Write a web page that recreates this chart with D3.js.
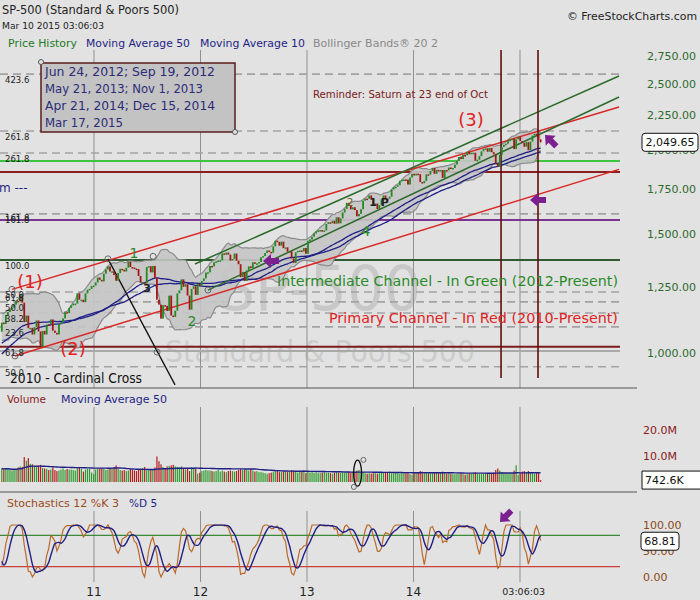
<!DOCTYPE html>
<html><head><meta charset="utf-8">
<script src="https://cdn.jsdelivr.net/npm/d3@7/dist/d3.min.js"></script>
<style>
body{margin:0;background:#e2e2e2;}
svg{display:block;font-family:"DejaVu Sans",Verdana,sans-serif;}
</style>
</head><body>
<svg id="c" width="700" height="600"></svg>
<script>
// ---------------- DATA ----------------
// weekly closes, Mar 2009 - Feb 12 2010 (used only to seed indicators)
const closesPrior = [683,756,769,816,843,857,870,866,878,930,883,887,919,940,946,921,918,896,880,940,979,987,1010,1005,1026,1029,1016,1042,1068,1044,1025,1072,1087,1080,1036,1069,1093,1091,1091,1106,1106,1102,1127,1115,1145,1136,1092,1074,1066,1075];
const firstWeekYear = 2010 + 49/365; // Feb 19 2010
const closes2010 = [1109,1104,1138,1150,1160,1167,1179,1194,1192,1217,1187,1111,1136,1088,1089,1065,1092,1117,1076,1022,1078,1065,1102,1101,1121,1079,1071,1065,1104,1110,1125,1149,1146,1166,1176,1183,1183,1225,1199,1199,1189,1225,1240,1244,1256,1258];
const closes2011 = [1272,1293,1283,1276,1310,1329,1343,1320,1321,1304,1279,1313,1332,1328,1320,1337,1364,1340,1338,1333,1331,1300,1271,1271,1268,1340,1344,1316,1345,1292,1199,1179,1124,1177,1174,1154,1216,1136,1131,1155,1225,1238,1285,1253,1264,1216,1159,1244,1255,1219,1265,1258];
const closes2012 = [1278,1289,1315,1316,1345,1343,1362,1366,1370,1371,1404,1397,1408,1398,1370,1378,1403,1369,1353,1295,1318,1278,1325,1343,1335,1362,1355,1357,1363,1386,1391,1406,1418,1411,1407,1438,1466,1460,1441,1461,1429,1433,1412,1414,1380,1359,1409,1416,1418,1413,1430,1402];
const closes2013 = [1466,1472,1486,1503,1513,1518,1520,1516,1518,1552,1561,1556,1569,1553,1588,1555,1582,1614,1634,1668,1650,1631,1643,1627,1593,1606,1632,1680,1692,1691,1710,1691,1656,1664,1633,1655,1688,1710,1692,1691,1703,1745,1759,1762,1771,1798,1804,1806,1805,1775,1818,1841];
const closes2014 = [1831,1842,1839,1790,1783,1797,1838,1836,1859,1878,1841,1866,1857,1865,1816,1865,1863,1881,1878,1878,1900,1924,1950,1936,1963,1961,1985,1968,1978,1978,1925,1931,1955,1988,2003,2008,1985,2011,1982,1968,1906,1887,1964,2018,2032,2040,2064,2068,2075,2003,2071,2089];
const closes2015 = [2058,2045,2019,2051,1995,2055,2097,2110,2105,2071,2049.65];

// weekly volume (millions, chart units)
const vol2010 = [5.2,4.8,5.4,5.0,4.6,4.4,4.8,5.0,5.6,6.0,5.8,9.6,8.2,9.2,7.0,6.8,6.2,5.8,6.4,6.6,5.4,5.2,5.0,4.6,4.8,5.6,4.6,4.2,4.4,4.8,5.2,4.6,5.0,4.8,4.8,4.6,4.4,5.6,5.4,5.2,4.0,4.8,5.0,5.2,3.6,3.0];
const vol2011 = [4.8,5.0,5.2,5.4,5.0,4.6,4.8,5.2,5.4,5.6,6.4,5.0,4.6,4.4,4.6,4.2,4.4,5.0,4.6,4.4,4.2,5.0,5.2,5.4,5.8,4.4,4.6,5.0,4.8,5.6,9.8,8.0,6.8,5.8,5.2,6.0,6.2,6.4,6.6,6.0,5.8,5.6,6.0,5.0,4.8,5.2,4.2,5.6,5.0,5.2,3.2,3.6];
const vol2012 = [4.2,4.4,4.6,4.4,4.4,4.2,4.0,4.2,4.6,4.0,4.4,4.0,3.8,4.2,4.4,4.2,4.0,4.2,4.6,5.0,4.6,4.8,4.6,4.4,5.0,4.4,4.0,4.2,3.8,3.8,3.6,3.4,3.2,3.4,3.6,3.8,4.2,4.6,3.8,3.8,4.0,4.0,3.8,4.2,4.6,4.4,3.8,3.6,4.0,4.2,4.6,3.4];
const vol2013 = [3.8,3.6,3.8,3.6,3.8,3.4,3.4,3.6,3.8,3.6,3.6,3.4,3.2,3.6,3.8,3.6,3.6,3.8,3.6,3.6,3.8,3.6,3.8,3.6,4.4,4.6,3.6,3.8,3.4,3.2,3.4,3.2,3.4,3.4,3.2,3.4,3.8,3.6,3.6,3.8,4.0,3.4,3.4,3.6,3.4,3.2,3.4,3.6,3.8,3.6,3.0,2.8];
const vol2014 = [3.6,3.4,3.6,4.2,4.0,3.8,3.4,3.2,3.4,3.4,3.6,3.6,3.4,3.6,4.0,3.4,3.2,3.4,3.2,3.0,3.0,3.2,3.0,3.2,3.0,2.8,3.0,3.2,3.2,3.6,3.8,3.2,3.0,3.0,3.2,3.4,3.2,3.6,3.4,3.6,4.6,5.2,4.4,3.8,3.6,3.4,3.2,3.4,3.4,4.4,6.4,2.8];
const vol2015 = [3.4,4.0,4.2,3.8,4.2,3.8,3.4,3.2,3.4,3.8,0.7426];

const priceTicks = [1000,1250,1500,1750,2000,2250,2500,2750];
const volTicks = [10,20];
const stochTicks = [0,50,100];
const yearTicks = [2011,2012,2013,2014];
const yearTickLabels = ["11","12","13","14"];
const lastTimeLabel = "03:06:03";
const lastPriceLabel = "2,049.65";
const lastVolLabel = "742.6K";
const lastStochValue = 68.81;

// Fibonacci / level lines (prices)
const fibDashed = [2586,2130,1976,1606,1231,1190,1146,1093,954];
const fibLabels = ["423.6","261.8","261.8","161.8","61.8","50.0","38.2","23.6","50.0"];
const levelPrices = [1923,1852,1573,1373,1021,1007];
const levelLabels = [null,null,"161.8","100.0","61.8",null];
const extraFibLabel = {t:"50.0", p:1231};
// channels [ [year, price], [year, price] ]
const primaryChannel = [[[2010.23,1242],[2015.93,2312]],[[2010.258,990],[2015.93,1869]]];
const intermediateChannel = [[[2011.948,1354],[2015.93,2569]],[[2012.07,1239],[2015.93,2392]]];
const cardinalLine = [[2011.131,1378],[2011.761,897]];
const cycleLines = [2014.822, 2015.169];
const handles = [[2011.131,1378],[2011.592,1003],[2012.07,1239],[2010.258,990],[2010.23,1242],[2011.555,1390]];
const waveLabels = [
  {t:"(1)", yr:2010.399, p:1274, k:"red"},
  {t:"(2)", yr:2010.803, p:1017, k:"red"},
  {t:"(3)", yr:2014.540, p:2212, k:"red"},
  {t:"1", yr:2011.376, p:1406, k:"green"},
  {t:"2", yr:2011.920, p:1115, k:"green"},
  {t:"4", yr:2013.554, p:1515, k:"green"},
  {t:"3", yr:2011.498, p:1244, k:"small"},
  {t:"2", yr:2013.404, p:1667, k:"smallg"},
  {t:"1 P", yr:2013.676, p:1667, k:"small"}
];
const arrows = [
  {yr:2012.587, p:1368, dir:0},
  {yr:2015.094, p:1684, dir:0},
  {yr:2015.235, p:2101, dir:45}
];
const stochArrow = {yr:2014.812, v:105.8, dir:-45};
const legendDates = ["Jun 24, 2012; Sep 19, 2012","May 21, 2013; Nov 1, 2013","Apr 21, 2014; Dec 15, 2014","Mar 17, 2015"];

// ---------------- DERIVED SERIES ----------------
const closesVisible = [].concat(closes2010,closes2011,closes2012,closes2013,closes2014,closes2015);
const volumes = [].concat(vol2010,vol2011,vol2012,vol2013,vol2014,vol2015);
const all = closesPrior.concat(closesVisible);
const P = closesPrior.length;
const n = closesVisible.length;
const weekYear = d3.range(n).map(j => firstWeekYear + j*7/365.25);
function windowOf(arr, i, k){ return arr.slice(Math.max(0,i-k+1), i+1); }
const ma50 = d3.range(n).map(j => d3.mean(windowOf(all, P+j, 50)));
const ma40 = d3.range(n).map(j => d3.mean(windowOf(all, P+j, 40)));
const bb = d3.range(n).map(j => { const w = windowOf(all,P+j,20); const m=d3.mean(w), s=d3.deviation(w)*Math.sqrt((w.length-1)/w.length); return {m, up:m+2*s, lo:m-2*s}; });
const rawK = all.map((c,i) => { const w = windowOf(all,i,12); const lo=d3.min(w), hi=d3.max(w); return hi===lo?50:100*(c-lo)/(hi-lo); });
const kS = all.map((c,i) => d3.mean(windowOf(rawK,i,3)));
const dS = all.map((c,i) => d3.mean(windowOf(kS,i,5)));
const volMA = d3.range(n).map(j => d3.mean(windowOf(volumes, j, 50)));

// ---------------- SCALES ----------------
const plotW = 620;
const x = d3.scaleLinear().domain([2011 - 94/106.5, 2011 + (plotW-94)/106.5]).range([0, plotW]);
const yP = d3.scaleLog().domain([887.5, 3005]).range([388, 30]);
const yV = d3.scaleLinear().domain([0, 10]).range([482, 456]);
const yS = d3.scaleLinear().domain([0, 100]).range([577, 525]);

const C = {green:"#238a23", red:"#a51616", navy:"#1f1f85", chanRed:"#d92828", chanGreen:"#2c6a2c", grid:"#8f8f8f", dash:"#a3a3a3", purple:"#7c2090"};

const svg = d3.select("#c");
const defs = svg.append("defs");
defs.append("clipPath").attr("id","clipMain").append("rect").attr("x",0).attr("y",30).attr("width",plotW).attr("height",358);
defs.append("clipPath").attr("id","clipVol").append("rect").attr("x",0).attr("y",400).attr("width",plotW).attr("height",90);
defs.append("clipPath").attr("id","clipSto").append("rect").attr("x",0).attr("y",505).attr("width",plotW).attr("height",80);

// ---------------- HEADER ----------------
svg.append("text").attr("x",2).attr("y",14).attr("font-size",12.5).attr("fill","#222").attr("textLength",177).attr("lengthAdjust","spacingAndGlyphs").text("SP-500 (Standard & Poors 500)");
svg.append("text").attr("x",2).attr("y",29).attr("font-size",9.5).attr("fill","#222").attr("textLength",102).attr("lengthAdjust","spacingAndGlyphs").text("Mar 10 2015 03:06:03");
svg.append("text").attr("x",567).attr("y",20).attr("font-size",11).attr("fill","#222").attr("textLength",130).attr("lengthAdjust","spacingAndGlyphs").text("© FreeStockCharts.com");
const leg = [["Price History",8,69,"#1e7a1e"],["Moving Average 50",86,104,C.navy],["Moving Average 10",200,105,C.navy],["Bollinger Bands® 20 2",313,125,"#888"]];
leg.forEach(l => svg.append("text").attr("x",l[1]).attr("y",47).attr("font-size",11).attr("fill",l[3]).attr("textLength",l[2]).attr("lengthAdjust","spacingAndGlyphs").text(l[0]));

// ---------------- MAIN PANEL ----------------
const gM = svg.append("g").attr("clip-path","url(#clipMain)");
// watermark
gM.append("text").attr("x",218).attr("y",310).attr("font-size",62).attr("fill","#a9a9a9").attr("opacity",0.45).attr("textLength",203).attr("lengthAdjust","spacingAndGlyphs").text("SP-500");
gM.append("text").attr("x",165).attr("y",362).attr("font-size",30).attr("fill","#b3b3b3").attr("opacity",0.45).attr("textLength",310).attr("lengthAdjust","spacingAndGlyphs").text("Standard & Poors 500");
// year grid
gM.selectAll("line.yg").data(yearTicks.concat([2015])).join("line").attr("x1",d=>x(d)).attr("x2",d=>x(d)).attr("y1",50).attr("y2",388).attr("stroke",C.grid).attr("stroke-width",1);
// dashed fib lines
gM.selectAll("line.fd").data(fibDashed).join("line").attr("x1",0).attr("x2",plotW).attr("y1",d=>yP(d)).attr("y2",d=>yP(d)).attr("stroke",C.dash).attr("stroke-width",1.6).attr("stroke-dasharray","8,5");
// level lines
const levelColors = ["#3ec43e","#8b1e1e","#7a3590","#2f5a2f","#7a1c1c","#a9a9a9"];
gM.selectAll("line.lv").data(levelPrices).join("line").attr("x1",0).attr("x2",plotW).attr("y1",d=>yP(d)).attr("y2",d=>yP(d)).attr("stroke",(d,i)=>levelColors[i]).attr("stroke-width",2);
// fib labels
const fl = svg.append("g").attr("font-size",8.5).attr("fill","#222");
fibDashed.forEach((p,i)=> fl.append("text").attr("x",5).attr("y",yP(p)+9).text(fibLabels[i]));
levelPrices.forEach((p,i)=> { if(levelLabels[i]) fl.append("text").attr("x",5).attr("y",yP(p)+(i===2?1:9)).text(levelLabels[i]); });
fl.append("text").attr("x",5).attr("y",yP(extraFibLabel.p)+6).text(extraFibLabel.t);
// Bollinger
const bbArea = d3.area().x((d,j)=>x(weekYear[j])).y0(d=>yP(d.lo)).y1(d=>yP(d.up)).curve(d3.curveMonotoneX);
gM.append("path").datum(bb).attr("d",bbArea).attr("fill","#c5c5c5").attr("opacity",0.9);
gM.append("path").datum(bb).attr("d",d3.line().x((d,j)=>x(weekYear[j])).y(d=>yP(d.up)).curve(d3.curveMonotoneX)).attr("fill","none").attr("stroke","#8a8a8a").attr("stroke-width",1.2);
gM.append("path").datum(bb).attr("d",d3.line().x((d,j)=>x(weekYear[j])).y(d=>yP(d.lo)).curve(d3.curveMonotoneX)).attr("fill","none").attr("stroke","#8a8a8a").attr("stroke-width",1.2);
// MAs
[ma50, ma40].forEach(s => gM.append("path").datum(s).attr("d",d3.line().x((d,j)=>x(weekYear[j])).y(d=>yP(d)).curve(d3.curveMonotoneX)).attr("fill","none").attr("stroke",C.navy).attr("stroke-width",1.3));
// channels
const seg = d3.line().x(d=>x(d[0])).y(d=>yP(d[1]));
primaryChannel.forEach(s => gM.append("path").attr("d",seg(s)).attr("stroke",C.chanRed).attr("stroke-width",1.5).attr("fill","none"));
intermediateChannel.forEach(s => gM.append("path").attr("d",seg(s)).attr("stroke",C.chanGreen).attr("stroke-width",1.5).attr("fill","none"));
gM.append("path").attr("d",seg(cardinalLine)).attr("stroke","#111").attr("stroke-width",1.3).attr("fill","none");
// cycle lines
gM.selectAll("line.cy").data(cycleLines).join("line").attr("x1",d=>x(d)).attr("x2",d=>x(d)).attr("y1",50).attr("y2",378).attr("stroke","#5e0f0f").attr("stroke-width",1.6);
// candles
const openV = d3.range(n).map(j => all[P+j-1]);
gM.selectAll("rect.cd").data(d3.range(n)).join("rect")
  .attr("x", j => x(weekYear[j]) - 0.9).attr("width", 1.8)
  .attr("y", j => yP(Math.max(openV[j], closesVisible[j])))
  .attr("height", j => Math.max(1.5, Math.abs(yP(openV[j]) - yP(closesVisible[j]))))
  .attr("fill", j => closesVisible[j] >= openV[j] ? C.green : C.red);
// handles
gM.selectAll("circle.h").data(handles).join("circle").attr("cx",d=>x(d[0])).attr("cy",d=>yP(d[1])).attr("r",3).attr("fill","none").attr("stroke","#666").attr("stroke-width",1);
// wave labels
waveLabels.forEach(w => {
  const t = gM.append("text").attr("x",x(w.yr)).attr("y",yP(w.p)).attr("text-anchor","middle").attr("dominant-baseline","central").text(w.t);
  if (w.k==="red") t.attr("font-size",18).attr("fill","#e02222");
  else if (w.k==="green") t.attr("font-size",14).attr("fill","#2a8a2a");
  else if (w.k==="smallg") t.attr("font-size",11).attr("fill","#6a6a2a");
  else t.attr("font-size",11).attr("fill","#222").attr("font-weight","bold");
});
// arrows
const arrowPath = "M0,0 L8,-7 L8,-3 L16,-3 L16,3 L8,3 L8,7 Z";
arrows.forEach(a => gM.append("path").attr("d",arrowPath).attr("fill",C.purple).attr("transform",`translate(${x(a.yr)},${yP(a.p)}) rotate(${a.dir})`));
// annotations text
gM.append("text").attr("x",x(2013.056)).attr("y",yP(2416)+4).attr("font-size",11).attr("fill","#7a1a1a").attr("textLength",175).attr("lengthAdjust","spacingAndGlyphs").text("Reminder: Saturn at 23 end of Oct");
gM.append("text").attr("x",x(2015.92)).attr("y",yP(1278)+5).attr("text-anchor","end").attr("font-size",14.5).attr("fill","#2a8a2a").attr("textLength",341).attr("lengthAdjust","spacingAndGlyphs").text("Intermediate Channel - In Green (2012-Present)");
gM.append("text").attr("x",x(2015.92)).attr("y",yP(1126)+5).attr("text-anchor","end").attr("font-size",14.5).attr("fill","#e02222").attr("textLength",289).attr("lengthAdjust","spacingAndGlyphs").text("Primary Channel - In Red (2010-Present)");
gM.append("text").attr("x",10).attr("y",yP(918)+5).attr("font-size",14).attr("fill","#111").attr("textLength",132).attr("lengthAdjust","spacingAndGlyphs").text("2010 - Cardinal Cross");
gM.append("text").attr("x",-1).attr("y",yP(1800)+12).attr("font-size",12).attr("fill",C.navy).text("m ---");
// legend box
const lb = svg.append("g");
lb.append("rect").attr("x",41).attr("y",63).attr("width",194).attr("height",69).attr("fill","#c3c3c3").attr("stroke","#5a1c1c").attr("stroke-width",1.5);
legendDates.forEach((t,i)=> lb.append("text").attr("x",45).attr("y",76+i*17).attr("font-size",12).attr("fill","#2c2c78").attr("textLength",[170,158,170,78][i]).attr("lengthAdjust","spacingAndGlyphs").text(t));
lb.append("circle").attr("cx",41).attr("cy",62).attr("r",2.5).attr("fill","#e2e2e2").attr("stroke","#555");
lb.append("circle").attr("cx",235).attr("cy",132).attr("r",2.5).attr("fill","#e2e2e2").attr("stroke","#555");

// price axis
const ax = svg.append("g").attr("font-size",11).attr("fill","#2d6a2d");
priceTicks.forEach(p => ax.append("text").attr("x",696).attr("y",yP(p)+4).attr("text-anchor","end").text(d3.format(",.2f")(p)));
const lastP = closesVisible[n-1];
svg.append("rect").attr("x",642).attr("y",yP(lastP)-9).attr("width",56).attr("height",18).attr("rx",3).attr("fill","#fff").attr("stroke","#111");
svg.append("text").attr("x",670).attr("y",yP(lastP)+4).attr("text-anchor","middle").attr("font-size",11).attr("fill","#111").text(lastPriceLabel);

// separators
[388,492].forEach(yv => svg.append("line").attr("x1",0).attr("x2",637).attr("y1",yv).attr("y2",yv).attr("stroke","#555").attr("stroke-width",1));

// ---------------- VOLUME PANEL ----------------
svg.append("text").attr("x",7).attr("y",403).attr("font-size",10.5).attr("fill","#8b1a1a").text("Volume");
svg.append("text").attr("x",61).attr("y",403).attr("font-size",10.5).attr("fill",C.navy).attr("textLength",106).attr("lengthAdjust","spacingAndGlyphs").text("Moving Average 50");
const gV = svg.append("g").attr("clip-path","url(#clipVol)");
gV.selectAll("line.yg").data(yearTicks.concat([2015])).join("line").attr("x1",d=>x(d)).attr("x2",d=>x(d)).attr("y1",407).attr("y2",482).attr("stroke",C.grid);
gV.selectAll("rect.v").data(d3.range(n)).join("rect")
  .attr("x", j => x(weekYear[j]) - 0.6).attr("width",1.2)
  .attr("y", j => yV(volumes[j])).attr("height", j => yV(0) - yV(volumes[j]))
  .attr("fill", j => closesVisible[j] >= openV[j] ? "#2c9a2c" : "#b31d1d");
gV.append("path").datum(volMA).attr("d",d3.line().x((d,j)=>x(weekYear[j])).y(d=>yV(d))).attr("fill","none").attr("stroke",C.navy).attr("stroke-width",1.4);
gV.append("ellipse").attr("cx",x(2013.475)).attr("cy",yV(3.4)).attr("rx",4).attr("ry",13).attr("fill","none").attr("stroke","#111").attr("stroke-width",1.3);
gV.append("circle").attr("cx",x(2013.53)).attr("cy",yV(8.5)).attr("r",2.5).attr("fill","none").attr("stroke","#666");
gV.append("circle").attr("cx",x(2013.44)).attr("cy",yV(-1.9)).attr("r",2.5).attr("fill","none").attr("stroke","#666");
volTicks.forEach(v => svg.append("text").attr("x",643).attr("y",yV(v)+4).attr("font-size",11).attr("fill","#8b1a1a").text(v.toFixed(1)+"M"));
svg.append("path").attr("d",`M700,${yV(volumes[n-1])-9} H642 V${yV(volumes[n-1])+9} H700`).attr("fill","#fff").attr("stroke","#111");
svg.append("text").attr("x",645).attr("y",yV(volumes[n-1])+4).attr("font-size",11).attr("fill","#111").text(lastVolLabel);

// ---------------- STOCHASTIC PANEL ----------------
svg.append("text").attr("x",7).attr("y",507).attr("font-size",10.5).attr("fill","#9a4a1a").attr("textLength",112).attr("lengthAdjust","spacingAndGlyphs").text("Stochastics 12 %K 3");
svg.append("text").attr("x",129).attr("y",507).attr("font-size",10.5).attr("fill",C.navy).text("%D 5");
const gS = svg.append("g").attr("clip-path","url(#clipSto)");
gS.selectAll("line.yg").data(yearTicks.concat([2015])).join("line").attr("x1",d=>x(d)).attr("x2",d=>x(d)).attr("y1",511).attr("y2",582).attr("stroke",C.grid);
gS.append("line").attr("x1",0).attr("x2",plotW).attr("y1",yS(80)).attr("y2",yS(80)).attr("stroke","#3a8a3a").attr("stroke-width",1.2);
gS.append("line").attr("x1",0).attr("x2",plotW).attr("y1",yS(20)).attr("y2",yS(20)).attr("stroke","#c8413a").attr("stroke-width",1.2);
const kVis = d3.range(n).map(j => kS[P+j]);
const dVis = d3.range(n).map(j => dS[P+j]);
gS.append("path").datum(kVis).attr("d",d3.line().x((d,j)=>x(weekYear[j])).y(d=>yS(d))).attr("fill","none").attr("stroke","#b86a2a").attr("stroke-width",1.2);
gS.append("path").datum(dVis).attr("d",d3.line().x((d,j)=>x(weekYear[j])).y(d=>yS(d)).curve(d3.curveMonotoneX)).attr("fill","none").attr("stroke",C.navy).attr("stroke-width",1.4);
svg.append("path").attr("d",arrowPath).attr("fill",C.purple).attr("transform",`translate(${x(stochArrow.yr)},${yS(stochArrow.v)}) rotate(${stochArrow.dir})`);
stochTicks.forEach(v => svg.append("text").attr("x",643).attr("y",yS(v)+4).attr("font-size",11).attr("fill","#8b4a1a").text(v.toFixed(2)));
svg.append("rect").attr("x",641).attr("y",yS(lastStochValue)-9).attr("width",38).attr("height",18).attr("rx",3).attr("fill","#fff").attr("stroke","#111");
svg.append("text").attr("x",660).attr("y",yS(lastStochValue)+4).attr("text-anchor","middle").attr("font-size",11).attr("fill","#111").text(lastStochValue.toFixed(2));

// ---------------- TIME AXIS ----------------
yearTicks.forEach((yv,i) => svg.append("text").attr("x",x(yv)).attr("y",596).attr("text-anchor","middle").attr("font-size",12).attr("fill","#222").text(yearTickLabels[i]));
svg.append("text").attr("x",x(weekYear[n-1])-17).attr("y",595).attr("text-anchor","middle").attr("font-size",9.5).attr("fill","#222").text(lastTimeLabel);
</script>
</body></html>
